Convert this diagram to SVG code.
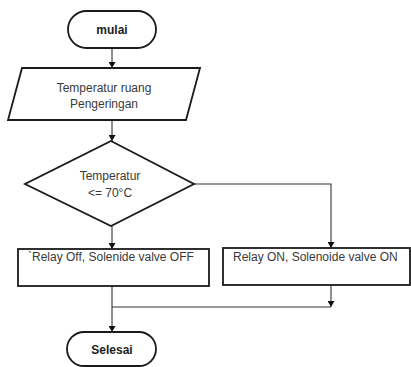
<svg xmlns="http://www.w3.org/2000/svg" width="411" height="367" viewBox="0 0 411 367">
<defs>
<style>
.sh{fill:#fff;stroke:#1a1a1a;stroke-width:1.8}
.t{font-family:"Liberation Sans",Arial,sans-serif;font-size:12px;fill:#3a3a3a}
.tb{font-family:"Liberation Sans",Arial,sans-serif;font-size:12px;font-weight:bold;fill:#222}
.c{fill:none;stroke:#333;stroke-width:1.1}
</style>
<marker id="ah" markerWidth="7" markerHeight="7" refX="6" refY="3.5" orient="auto" markerUnits="userSpaceOnUse">
<path d="M0,0 L6,3.5 L0,7 z" fill="#111"/>
</marker>
</defs>
<rect width="411" height="367" fill="#fff"/>
<g id="connectors">
<path class="c" d="M112,48 V68" marker-end="url(#ah)"/>
<path class="c" d="M112,120 V141" marker-end="url(#ah)"/>
<path class="c" d="M112,226 V249" marker-end="url(#ah)"/>
<path class="c" d="M194,184 H331 V248" marker-end="url(#ah)"/>
<path class="c" d="M331,286 V307" marker-end="url(#ah)"/>
<path class="c" d="M331,307 H112"/>
<path class="c" d="M112,286 V332" marker-end="url(#ah)"/>
</g>
<g id="mulai">
<rect class="sh" x="68" y="11" width="88" height="37" rx="18.5"/>
<text class="tb" x="112" y="33.5" text-anchor="middle">mulai</text>
</g>
<g id="input">
<polygon class="sh" points="22,68 200,68 186,120 8,120"/>
<text class="t" x="104" y="92" text-anchor="middle">Temperatur ruang</text>
<text class="t" x="104" y="108" text-anchor="middle">Pengeringan</text>
</g>
<g id="decision">
<polygon class="sh" points="111,141 194,184 111,226 25,184"/>
<text class="t" x="110" y="180" text-anchor="middle">Temperatur</text>
<text class="t" x="110" y="197" text-anchor="middle">&lt;= 70°C</text>
</g>
<g id="relay-off">
<rect class="sh" x="18" y="249" width="191" height="37"/>
<text class="t" x="28" y="261">`Relay Off, Solenide valve OFF</text>
</g>
<g id="relay-on">
<rect class="sh" x="223" y="248" width="187" height="37"/>
<text class="t" x="233" y="261">Relay ON, Solenoide valve ON</text>
</g>
<g id="selesai">
<rect class="sh" x="67" y="332" width="89" height="34" rx="17"/>
<text class="tb" x="112" y="353.5" text-anchor="middle">Selesai</text>
</g>
</svg>
